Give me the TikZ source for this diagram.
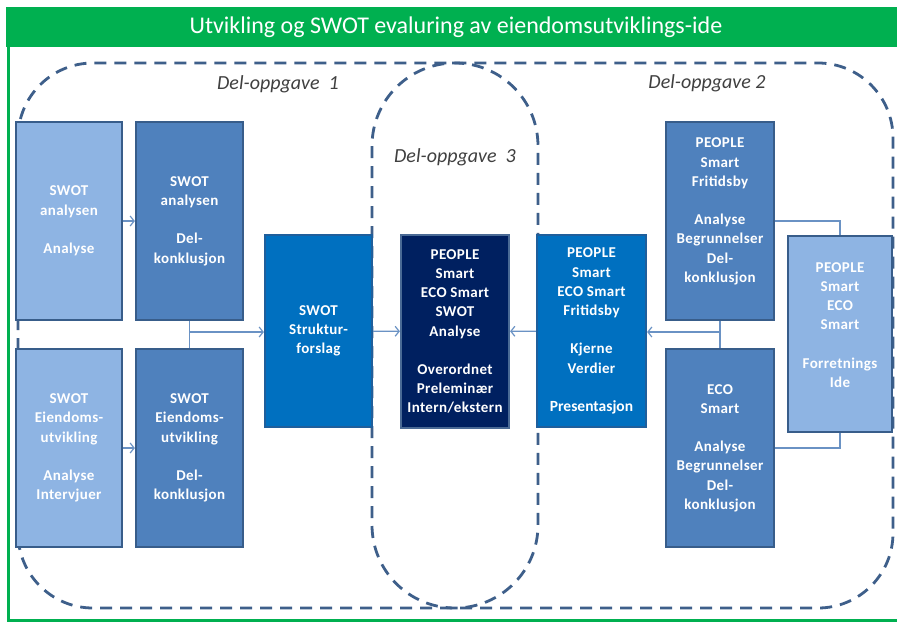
\documentclass[tikz,border=0pt]{standalone}
\usepackage{fontspec}
\setmainfont{Carlito}
\newfontfamily\boxfont[LetterSpace=2.5]{Carlito}
\newfontfamily\plainboxfont{Carlito}
\usetikzlibrary{arrows.meta}

\definecolor{framegreen}{HTML}{00B050}
\definecolor{dashblue}{HTML}{3E5F8A}
\definecolor{edgeblue}{HTML}{385D8A}
\definecolor{lightfill}{HTML}{8EB4E3}
\definecolor{midfill}{HTML}{4F81BD}
\definecolor{brightfill}{HTML}{0070C0}
\definecolor{brightedge}{HTML}{1F5F9C}
\definecolor{navyfill}{HTML}{002060}
\definecolor{navyedge}{HTML}{4A6A95}
\definecolor{linkblue}{HTML}{6A92C4}
\definecolor{labelgray}{HTML}{404040}

\tikzset{
  boxbase/.style={rectangle, draw, line width=2.2pt, inner sep=0pt},
  lightbox/.style={boxbase, fill=lightfill, draw=edgeblue},
  midbox/.style={boxbase, fill=midfill, draw=edgeblue},
  brightbox/.style={boxbase, fill=brightfill, draw=brightedge},
  navybox/.style={boxbase, fill=navyfill, draw=navyedge},
  boxtext/.style={text=white, align=center, inner sep=0pt,
    font=\boxfont\fontsize{15}{19.2}\selectfont\bfseries},
  dashline/.style={draw=dashblue, line width=2.8pt, dash pattern=on 12pt off 8pt},
  link/.style={draw=linkblue, line width=1.2pt},
  linkarrow/.style={link, -{Straight Barb[length=4pt,width=10pt]}},
  partlabel/.style={text=labelgray, font=\fontsize{20}{24}\selectfont\itshape},
}

\begin{document}
\begin{tikzpicture}[x=1pt, y=-1pt]
  \useasboundingbox (0,0) rectangle (897,622);
  \clip (0,0) rectangle (897,622);

  % green frame and header
  \fill[white] (0,0) rectangle (897,622);
  \fill[framegreen] (6,7) rectangle (905,47);
  \draw[framegreen, line width=3pt] (8,46) -- (8,620.5) -- (905,620.5);
  \node[text=white, font=\fontsize{24}{28}\selectfont] (title) at (456,27)
    {Utvikling og SWOT evaluring av eiendomsutviklings-ide};

  % dashed work-package outlines
  \draw[dashline, rounded corners=75pt] (18,63) rectangle (893,608);
  \draw[dashline, rounded corners=83pt] (372,63) rectangle (538,608);

  \node[partlabel] (p1) at (278,84) {Del-oppgave\ \ 1};
  \node[partlabel] (p2) at (707,83) {Del-oppgave 2};
  \node[partlabel] (p3) at (455,157) {Del-oppgave\ \ 3};

  % boxes
  \node[lightbox, minimum width=106pt, minimum height=198pt] (A1) at (69,221) {};
  \node[midbox, minimum width=107pt, minimum height=198pt] (B1) at (189.5,221) {};
  \node[lightbox, minimum width=106pt, minimum height=198pt] (A2) at (69,448) {};
  \node[midbox, minimum width=107pt, minimum height=198pt] (B2) at (189.5,448) {};
  \node[brightbox, minimum width=107pt, minimum height=192pt] (C) at (318.5,331) {};
  \node[navybox, minimum width=108pt, minimum height=193pt] (D) at (455,331.5) {};
  \node[brightbox, minimum width=109pt, minimum height=192pt] (E) at (591.5,331) {};
  \node[midbox, minimum width=108pt, minimum height=198pt] (F) at (720,221) {};
  \node[midbox, minimum width=108pt, minimum height=198pt] (G) at (720,448) {};
  \node[lightbox, minimum width=104pt, minimum height=196pt] (H) at (840,334) {};

  % box texts
  \node[boxtext] (tA1) at (A1.center) {SWOT\\analysen\\[19.2pt]Analyse};
  \node[boxtext] (tB1) at (B1.center) {SWOT\\analysen\\[19.2pt]Del-\\konklusjon};
  \node[boxtext] (tA2) at (A2.center) {SWOT\\Eiendoms-\\utvikling\\[19.2pt]Analyse\\Intervjuer};
  \node[boxtext] (tB2) at (B2.center) {SWOT\\Eiendoms-\\utvikling\\[19.2pt]Del-\\konklusjon};
  \node[boxtext] (tC) at (C.center) {SWOT\\Struktur-\\forslag};
  \node[boxtext] (tD) at (D.center) {PEOPLE\\Smart\\ECO Smart\\SWOT\\Analyse\\[19.2pt]Overordnet\\Preleminær\\Intern/ekstern};
  \node[boxtext] (tE) at (E.center) {PEOPLE\\Smart\\ECO Smart\\Fritidsby\\[19.2pt]Kjerne\\Verdier\\[19.2pt]{\plainboxfont\fontsize{15.5}{19.2}\selectfont\bfseries Presentasjon}};
  \node[boxtext] (tF) at ([yshift=9.5pt]F.center) {PEOPLE\\Smart\\Fritidsby\\[19.2pt]Analyse\\Begrunnelser\\Del-\\konklusjon};
  \node[boxtext] (tG) at (G.center) {ECO\\Smart\\[19.2pt]Analyse\\Begrunnelser\\Del-\\konklusjon};
  \node[boxtext] (tH) at ([yshift=9pt]H.center) {PEOPLE\\Smart\\ECO\\Smart\\[19.2pt]Forretnings\\Ide};

  % connectors
  \coordinate (j1) at (189.5,332);
  \coordinate (j2) at (720,332);
  \draw[linkarrow] (A1) -- (B1);
  \draw[linkarrow] (A2) -- (B2);
  \draw[link] (B1.south) -- (B2.north);
  \draw[linkarrow] (j1) -- (j1 -| C.west);
  \draw[linkarrow] (C) -- (D);
  \draw[linkarrow] (E) -- (D);
  \draw[link] (F.south) -- (G.north);
  \draw[linkarrow] (j2) -- (j2 -| E.east);
  \draw[link] (F.east) -| (H.north);
  \draw[link] (G.east) -| (H.south);
\end{tikzpicture}
\end{document}
